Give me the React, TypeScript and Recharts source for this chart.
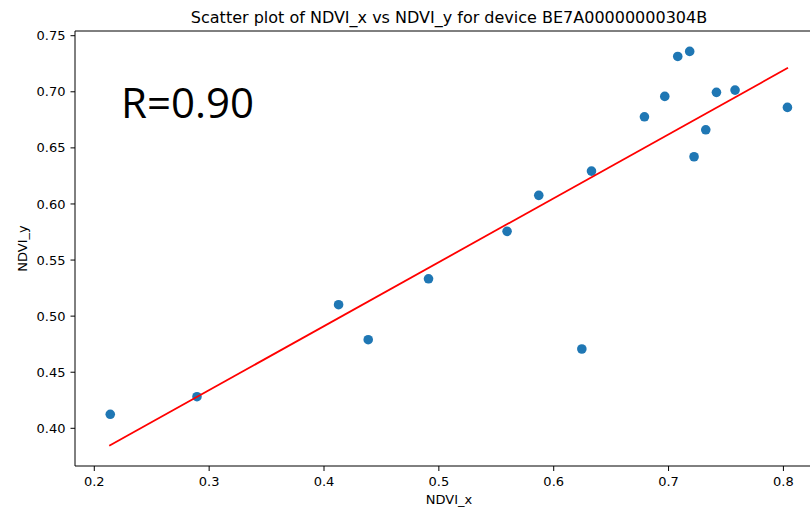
import React from 'react';
import { ScatterChart, Scatter, XAxis, YAxis, ReferenceLine } from 'recharts';

const ndviX = [0.2139, 0.2894, 0.4127, 0.4385, 0.491, 0.5594, 0.587, 0.6245, 0.6329, 0.679, 0.6967, 0.708, 0.7184, 0.7222, 0.7324, 0.7417, 0.7579, 0.8035];
const ndviY = [0.4125, 0.4282, 0.5102, 0.479, 0.5333, 0.5756, 0.6077, 0.4707, 0.6293, 0.6777, 0.6959, 0.7315, 0.736, 0.6421, 0.6661, 0.6995, 0.7015, 0.6861];
const fitX = [0.213, 0.804];
const fitY = [0.3845, 0.7214];
const xTicks = [0.2, 0.3, 0.4, 0.5, 0.6, 0.7, 0.8];
const yTicks = [0.4, 0.45, 0.5, 0.55, 0.6, 0.65, 0.7, 0.75];
const xDomain = [0.1832, 0.8336];
const yDomain = [0.3664, 0.7542];
const title = 'Scatter plot of NDVI_x vs NDVI_y for device BE7A00000000304B';
const xLabel = 'NDVI_x';
const yLabel = 'NDVI_y';
const rText = 'R=0.90';

const points = ndviX.map((x, i) => ({ x, y: ndviY[i] }));
const fit = fitX.map((x, i) => ({ x, y: fitY[i] }));

const tickStyle = { fill: '#000', fontSize: 13, fontFamily: 'DejaVu Sans' };

const Dot = (props: any) => <circle cx={props.cx} cy={props.cy} r={4.8} fill="#1f77b4" />;
const NoDot = () => <g />;

export default function App() {
  return (
    <div style={{ position: 'absolute', left: 0, top: 0, width: 810, height: 509, overflow: 'hidden', background: '#fff' }}>
      <ScatterChart width={840} height={509} margin={{ top: 31, right: 18, bottom: 13, left: 15 }}>
        <XAxis
          type="number"
          dataKey="x"
          domain={xDomain}
          allowDataOverflow
          ticks={xTicks}
          tickFormatter={(v: number) => v.toFixed(1)}
          height={30}
          tickSize={5}
          tickMargin={6}
          stroke="#000"
          tick={tickStyle}
        />
        <YAxis
          type="number"
          dataKey="y"
          domain={yDomain}
          allowDataOverflow
          ticks={yTicks}
          tickFormatter={(v: number) => v.toFixed(2)}
          width={60}
          tickSize={4.5}
          tickMargin={5}
          stroke="#000"
          tick={tickStyle}
        />
        <ReferenceLine y={yDomain[1]} stroke="#000" strokeWidth={1} ifOverflow="visible" />
        <Scatter data={points} shape={Dot} isAnimationActive={false} />
        <Scatter data={fit} shape={NoDot} line={{ stroke: '#ff0000', strokeWidth: 1.8 }} lineType="joint" isAnimationActive={false} />
      </ScatterChart>
      <svg width={810} height={509} style={{ position: 'absolute', left: 0, top: 0, pointerEvents: 'none' }}>
        <text x={449} y={23} textAnchor="middle" fontSize={16} fontFamily="DejaVu Sans" fill="#000">{title}</text>
        <text x={449} y={504} textAnchor="middle" fontSize={13} fontFamily="DejaVu Sans" fill="#000">{xLabel}</text>
        <text x={27} y={248.5} textAnchor="middle" fontSize={13} fontFamily="DejaVu Sans" fill="#000" transform="rotate(-90 27 248.5)">{yLabel}</text>
        <text x={121} y={118} fontSize={42} fontFamily="Open Sans" fill="#000">{rText}</text>
      </svg>
    </div>
  );
}
